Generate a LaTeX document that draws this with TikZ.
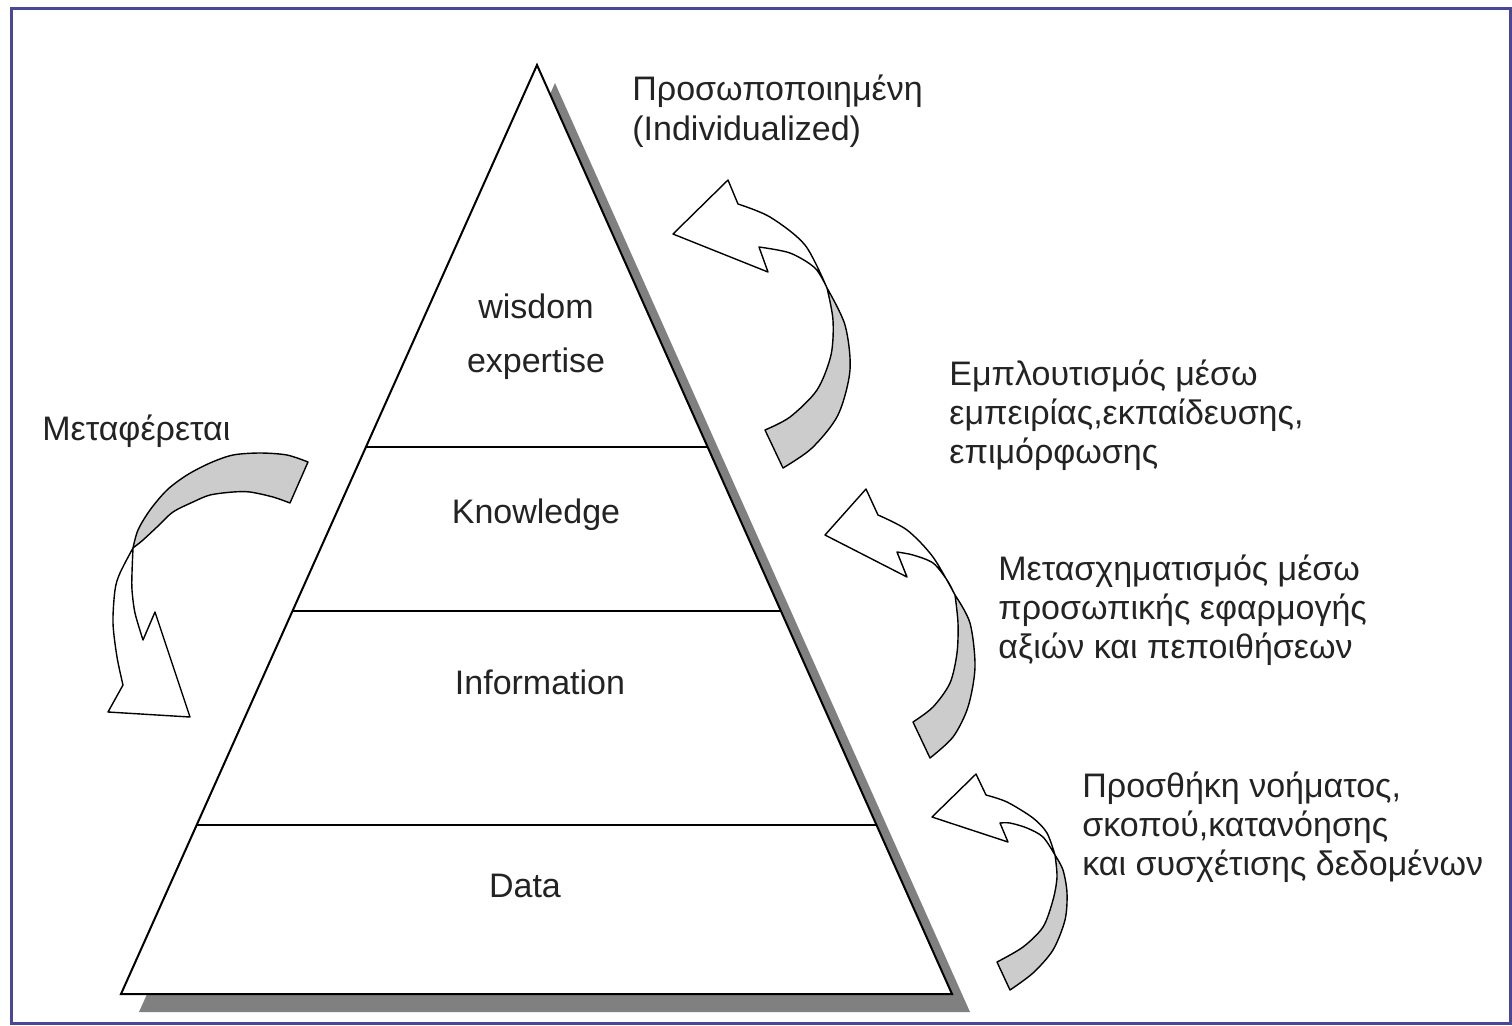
\documentclass[tikz,border=0pt]{standalone}
\usepackage{fontspec}
\setmainfont{Liberation Sans}
\usetikzlibrary{calc}
\definecolor{framecol}{RGB}{72,72,150}
\definecolor{shadowgray}{RGB}{128,128,128}
\definecolor{bandgray}{RGB}{204,204,204}
\definecolor{ink}{RGB}{35,35,35}
\begin{document}
\begin{tikzpicture}[x=0.5pt,y=-0.5pt,
  lbl/.style={inner sep=0pt, font=\fontsize{17}{19.5}\selectfont, text=ink},
  front/.style={fill=white, draw=black, line width=0.7pt, line join=round},
  back/.style={fill=bandgray, draw=black, line width=0.7pt, line join=round},
  layer/.style={draw=black, line width=0.75pt},
]
\useasboundingbox (0,0) rectangle (1512,1025);
\draw[framecol, line width=1.5pt] (11.5,8.5) rectangle (1510,1023);

% pyramid
\coordinate (apex) at (537,65);
\coordinate (bl) at (121,994);
\coordinate (br) at (952,994);
\fill[shadowgray] ([shift={(18,18)}]apex) -- ([shift={(18,18)}]br) -- ([shift={(18,18)}]bl) -- cycle;
\filldraw[fill=white, draw=black, line width=1pt, line join=miter] (apex) -- (br) -- (bl) -- cycle;
\draw[layer] ($(apex)!0.4112!(bl)$) -- ($(apex)!0.4112!(br)$);
\draw[layer] ($(apex)!0.5877!(bl)$) -- ($(apex)!0.5877!(br)$);
\draw[layer] ($(apex)!0.8181!(bl)$) -- ($(apex)!0.8181!(br)$);

% pyramid labels (multi-line nodes: base = last line)
\node[lbl, anchor=base, align=center] (wisdom) at (536,372) {wisdom\\[7.5pt]expertise};
\node[lbl, anchor=base] (knowledge) at (536,523) {Knowledge};
\node[lbl, anchor=base] (information) at (540,694) {Information};
\node[lbl, anchor=base] (data) at (525,897) {Data};

% side labels
\node[lbl, anchor=base west, align=left] (indiv) at (632,140) {Προσωποποιημένη\\[0.5pt](Individualized)};
\node[lbl, anchor=base west, align=left] (enrich) at (949,463) {Εμπλουτισμός μέσω\\εμπειρίας,εκπαίδευσης,\\επιμόρφωσης};
\node[lbl, anchor=base west, align=left] (transf) at (998,658) {Μετασχηματισμός μέσω\\προσωπικής εφαρμογής\\αξιών και πεποιθήσεων};
\node[lbl, anchor=base west, align=left] (addm) at (1082,875) {Προσθήκη νοήματος,\\σκοπού,κατανόησης\\και συσχέτισης δεδομένων};
\node[lbl, anchor=base west] (transfer) at (42,440) {Μεταφέρεται};

% right arrow 1 (top)
\filldraw[back] (827,288) -- plot[smooth] coordinates {(827,288) (845,325) (850,370) (838,415) (812,448) (783,468)}
  -- (765,430) -- plot[smooth] coordinates {(765,430) (790,417) (817,390) (831,355) (833,320) (827,288)} -- cycle;
\filldraw[front] (673,234) -- (728,180) -- (738,204)
  -- plot[smooth] coordinates {(738,204) (770,217) (805,245) (827,288)}
  -- plot[smooth] coordinates {(827,288) (815,268) (790,253) (759,247)}
  -- (768,272) -- cycle;

% right arrow 2 (middle)
\filldraw[back] (955,595) -- plot[smooth] coordinates {(955,595) (970,623) (975,667) (968,707) (953,737) (930,758)}
  -- (913,722) -- plot[smooth] coordinates {(913,722) (933,707) (950,683) (957,653) (958,623) (955,595)} -- cycle;
\filldraw[front] (825,535) -- (866,489) -- (878,515)
  -- plot[smooth] coordinates {(878,515) (907,530) (933,557) (955,595)}
  -- plot[smooth] coordinates {(955,595) (947,580) (933,563) (913,555) (897,552)}
  -- (907,577) -- cycle;

% right arrow 3 (bottom)
\filldraw[back] (1055,855) -- plot[smooth] coordinates {(1055,855) (1063,870) (1067,893) (1065,920) (1053,950) (1033,973) (1010,990)}
  -- (997,962) -- plot[smooth] coordinates {(997,962) (1023,947) (1043,927) (1053,900) (1057,877) (1055,855)} -- cycle;
\filldraw[front] (932,817) -- (976,774) -- (986,795)
  -- plot[smooth] coordinates {(986,795) (1007,802) (1033,818) (1047,833) (1055,855)}
  -- plot[smooth] coordinates {(1055,855) (1043,837) (1027,828) (1010,823) (1000,823)}
  -- (1008,842) -- cycle;

% left arrow
\filldraw[back] (133,548) -- plot[smooth] coordinates {(133,548) (138,530) (150,510) (167,490) (187,475) (210,463) (233,455) (260,453) (287,455) (308,462)}
  -- (290,503) -- plot[smooth] coordinates {(290,503) (273,497) (250,492) (233,492) (210,495) (193,502) (173,512) (157,527) (143,540) (133,548)} -- cycle;
\filldraw[front] (133,548) -- plot[smooth] coordinates {(133,548) (120,573) (115,590) (113,623) (117,657) (123,685)}
  -- (108,712) -- (190,717) -- (155,612) -- (143,640)
  -- plot[smooth] coordinates {(143,640) (135,613) (132,590) (132,573) (133,548)} -- cycle;
\end{tikzpicture}
\end{document}
